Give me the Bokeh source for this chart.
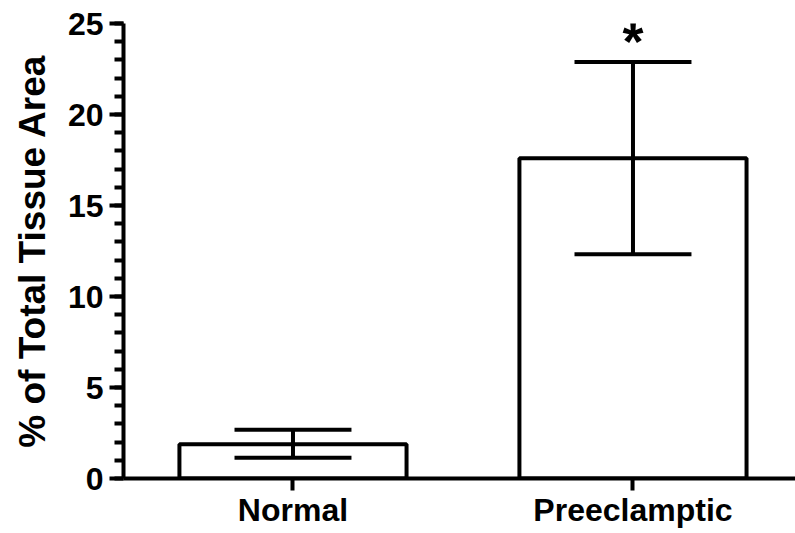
from bokeh.plotting import figure
from bokeh.models import ColumnDataSource, FixedTicker, Range1d
from bokeh.core.properties import value
from bokeh.embed import file_html
from bokeh.resources import INLINE

categories = ["Normal", "Preeclamptic"]
means = [1.88, 17.6]
lower = [1.14, 12.32]
upper = [2.68, 22.88]
significance = ["", "*"]

xs = [1, 2]
FONT = "Liberation Sans"

src = ColumnDataSource(dict(x=xs, top=means, lower=lower, upper=upper,
                            cap_l=[x - 0.172 for x in xs], cap_r=[x + 0.172 for x in xs],
                            star=significance, star_y=[u + 1.15 for u in upper]))

p = figure(width=795, height=533, output_backend="svg", toolbar_location=None,
           x_range=Range1d(0.5015, 2.478), y_range=Range1d(0, 25),
           min_border_left=123, min_border_right=0, min_border_top=23, min_border_bottom=55)
p.outline_line_color = None
p.xgrid.visible = False
p.ygrid.visible = False
p.background_fill_color = "white"
p.border_fill_color = "white"

LW = 4
p.vbar(x="x", top="top", bottom=0, width=0.668, source=src,
       fill_color="white", line_color="black", line_width=LW)
p.segment(x0="x", x1="x", y0="lower", y1="upper", source=src, line_color="black", line_width=LW)
p.segment(x0="cap_l", x1="cap_r", y0="upper", y1="upper", source=src, line_color="black", line_width=LW)
p.segment(x0="cap_l", x1="cap_r", y0="lower", y1="lower", source=src, line_color="black", line_width=LW)
p.text(x="x", y="star_y", text="star", source=src, text_align="center", text_baseline="alphabetic",
       text_font=value(FONT), text_font_style="bold", text_font_size="54px", text_color="black")

# y axis
ya = p.yaxis[0]
ya.ticker = FixedTicker(ticks=[0, 5, 10, 15, 20, 25], minor_ticks=list(range(0, 26)))
ya.axis_line_width = LW
ya.major_tick_line_width = LW
ya.minor_tick_line_width = LW
ya.major_tick_out = 14
ya.major_tick_in = 0
ya.minor_tick_out = 9
ya.minor_tick_in = 0
ya.major_label_text_font = FONT
ya.major_label_text_font_style = "bold"
ya.major_label_text_font_size = "32px"
ya.major_label_text_color = "black"
ya.major_label_standoff = 6
ya.axis_label = "% of Total Tissue Area"
ya.axis_label_text_font = FONT
ya.axis_label_text_font_style = "bold"
ya.axis_label_text_font_size = "37px"
ya.axis_label_text_color = "black"
ya.axis_label_standoff = 12

# x axis
xa = p.xaxis[0]
xa.ticker = FixedTicker(ticks=xs, minor_ticks=[])
xa.major_label_overrides = {x: c for x, c in zip(xs, categories)}
xa.axis_line_width = LW
xa.major_tick_line_width = LW
xa.major_tick_out = 12
xa.major_tick_in = 0
xa.minor_tick_line_color = None
xa.major_label_text_font = FONT
xa.major_label_text_font_style = "bold"
xa.major_label_text_font_size = "32px"
xa.major_label_text_color = "black"
xa.major_label_standoff = 1

open("out.html", "w").write(file_html(p, INLINE))
